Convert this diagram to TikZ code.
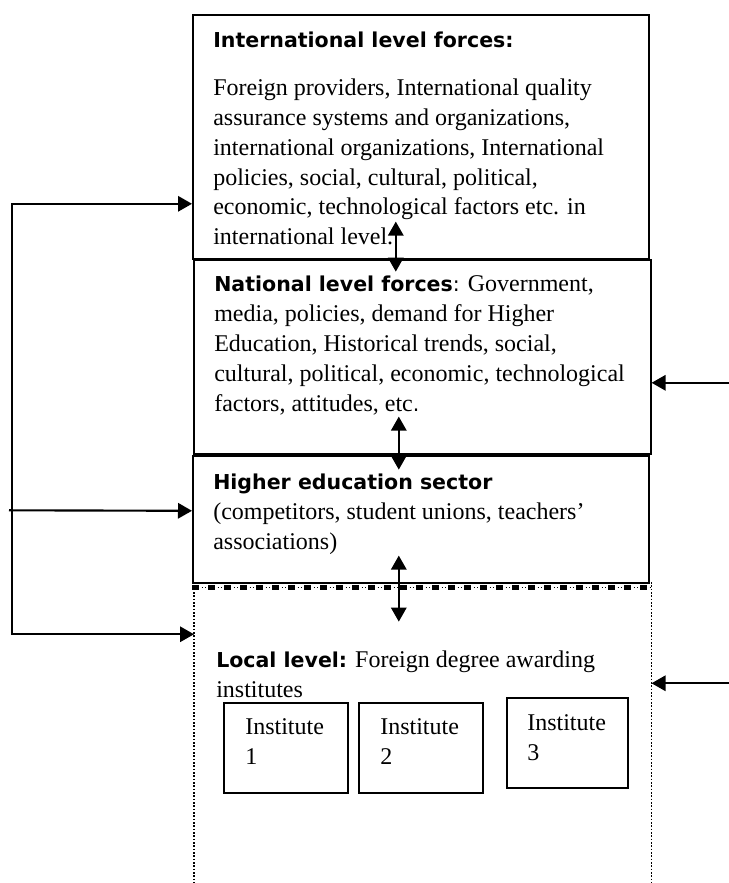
\documentclass[tikz,border=0pt]{standalone}
\usepackage{fontspec}
\setmainfont{Liberation Serif}
\newfontfamily\hdfont{DejaVu Sans}
\usetikzlibrary{arrows.meta}
\newcommand{\lvlhead}[1]{{\hdfont\bfseries\fontsize{15.4}{22.4}\selectfont #1}}
\newcommand{\lvlsans}[1]{{\hdfont\fontsize{15.4}{22.4}\selectfont #1}}

\begin{document}
\begin{tikzpicture}[x=0.75pt, y=-0.75pt,
    >={Triangle[length=10.5pt,width=11.5pt]},
    box/.style={draw, line width=1.2pt, inner sep=0pt, anchor=north west},
    txt/.style={anchor=north west, inner sep=0pt, align=left, font=\fontsize{18}{22.4}\selectfont},
    conn/.style={line width=1.6pt},
    dotline/.style={line width=1.2pt, dash pattern=on 1.2pt off 1.3pt}]
    \useasboundingbox (0,0) rectangle (729,883);
    % level boxes
    \node [box, minimum width=342pt, minimum height=183pt] (intl) at (192,14) {};
    \node [box, minimum width=342.75pt, minimum height=145.5pt] (natl) at (193,259) {};
    \node [box, minimum width=342pt, minimum height=95.25pt] (hesec) at (192,455) {};
    \node [inner sep=0pt, anchor=north west, minimum width=342.75pt, minimum height=225.75pt] (local) at (194,582) {};
    \draw [dotline] (local.north west) -- (local.south west);
    \draw [dotline] (local.north east) -- (local.south east);
    \draw [line width=0.8pt, dash pattern=on 0.8pt off 1.6pt] ([shift={(0,3.8)}]hesec.south west) -- ([shift={(2,3.8)}]hesec.south east);
    \draw [line width=4.2pt, dash pattern=on 5.25pt off 6.75pt] ([shift={(0,3.8)}]hesec.south west) -- ([shift={(2,3.8)}]hesec.south east);
    % institutes
    \node [box, minimum width=93pt, minimum height=67.5pt] (inst1) at (223,702) {};
    \node [box, minimum width=93pt, minimum height=67.5pt] (inst2) at (358,702) {};
    \node [box, minimum width=90.75pt, minimum height=67.5pt] (inst3) at (506,697) {};
    % texts
    \node [anchor=north west, inner sep=0pt] (intlhead) at (213,31.5) {\lvlhead{International level forces:}};
    \node [txt] (intltxt) at (213,78.5) {Foreign providers, International quality\\ assurance systems and organizations,\\ international organizations, International\\ policies, social, cultural, political,\\ economic, technological factors etc. in\\ international level.};
    \node [txt] (natltxt) at (214,275.5) {\lvlhead{National level forces}\lvlsans{:} Government,\\ media, policies, demand for Higher\\ Education, Historical trends, social,\\ cultural, political, economic, technological\\ factors, attitudes, etc\lvlsans{.}};
    \node [txt] (hesectxt) at (213,473.5) {\lvlhead{Higher education sector}\\ (competitors, student unions, teachers’\\ associations)};
    \node [txt] (localtxt) at (216,650.5) {\lvlhead{Local level:} Foreign degree awarding\\ institutes};
    \node [txt] (inst1txt) at (245,718) {Institute\\ 1};
    \node [txt] (inst2txt) at (380,718) {Institute\\ 2};
    \node [txt] (inst3txt) at (527,714) {Institute\\ 3};
    % connectors
    \draw [conn, <->] ([shift={(-25,-38)}]intl.south) -- ([shift={(-25,12)}]intl.south);
    \draw [conn, <->] ([shift={(-23.5,-38)}]natl.south) -- ([shift={(-23.5,15)}]natl.south);
    \draw [conn, <->] ([shift={(-22,-28)}]hesec.south) -- ([shift={(-22,38)}]hesec.south);
    \draw [conn, <->] ([shift={(0,67)}]intl.west) -- ++(-180,0) |- ([shift={(0,-98.5)}]local.west);
    \draw [conn, ->] ([shift={(-183,-9)}]hesec.west) -- ([shift={(0,-8.5)}]hesec.west);
    \draw [conn, ->] ([shift={(79,26)}]natl.east) -- ([shift={(0,26)}]natl.east);
    \draw [conn, ->] ([shift={(78,-49.5)}]local.east) -- ([shift={(0,-49.5)}]local.east);
\end{tikzpicture}
\end{document}
